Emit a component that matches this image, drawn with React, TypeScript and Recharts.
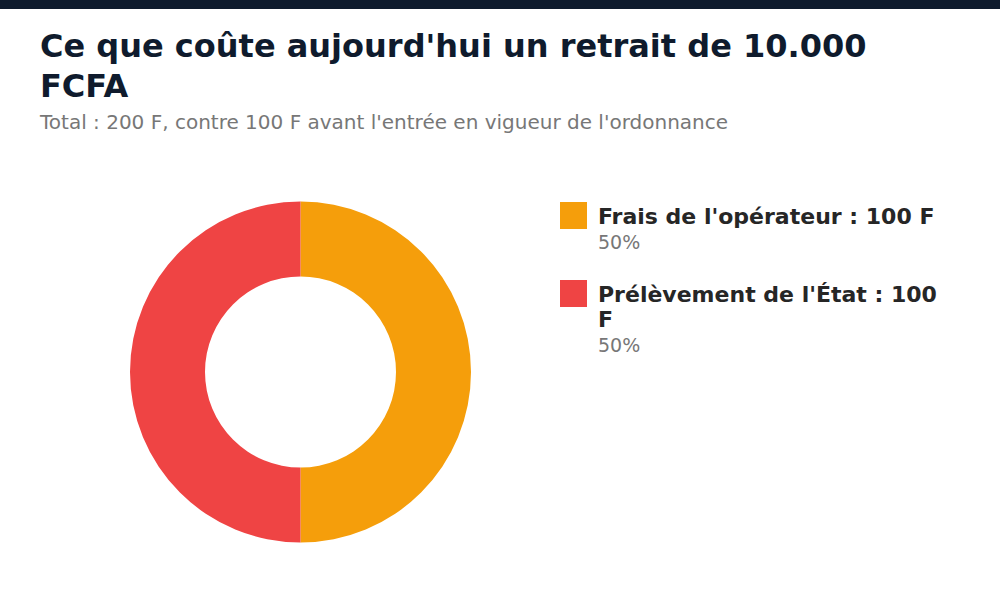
import { Legend, Pie, PieChart } from "recharts";

const sliceLabels = ["Frais de l'opérateur", "Prélèvement de l'État"];
const sliceValues = [100, 100];
const sliceShares = ["50%", "50%"];
const sliceColors = ["#f59e0b", "#ef4444"];

const data = sliceLabels.map((name, i) => ({
  name,
  value: sliceValues[i],
  share: sliceShares[i],
  fill: sliceColors[i],
}));

const FONT = "'DejaVu Sans', sans-serif";

function FeeLegend() {
  return (
    <div style={{ fontFamily: FONT, width: 400 }}>
      {data.map((d) => (
        <div
          key={d.name}
          style={{ display: "flex", alignItems: "flex-start", marginBottom: 25 }}
        >
          <div
            style={{
              width: 27,
              height: 27,
              background: d.fill,
              flex: "none",
              marginRight: 11,
            }}
          />
          <div style={{ width: 345, flex: "none", marginTop: 2 }}>
            <div
              style={{
                fontWeight: 700,
                fontSize: 22,
                lineHeight: "25px",
                color: "#262626",
              }}
            >
              {d.name} : {d.value} F
            </div>
            <div style={{ fontSize: 19, lineHeight: "26px", color: "#777777" }}>
              {d.share}
            </div>
          </div>
        </div>
      ))}
    </div>
  );
}

export default function App() {
  return (
    <div
      style={{
        position: "fixed",
        left: 0,
        top: 0,
        width: 1000,
        height: 600,
        background: "#ffffff",
        overflow: "hidden",
      }}
    >
      <div style={{ height: 9, background: "#0f1b2d" }} />
      <div
        style={{
          position: "absolute",
          left: 40,
          top: 25.5,
          width: 880,
          fontFamily: FONT,
        }}
      >
        <div
          style={{
            fontWeight: 700,
            fontSize: 32,
            lineHeight: "40px",
            color: "#0f1b2d",
          }}
        >
          Ce que coûte aujourd'hui un retrait de 10.000 FCFA
        </div>
        <div
          style={{
            fontSize: 20,
            lineHeight: "26px",
            color: "#777777",
            marginTop: 3.5,
          }}
        >
          Total : 200 F, contre 100 F avant l'entrée en vigueur de l'ordonnance
        </div>
      </div>
      <div style={{ position: "absolute", left: 0, top: 0 }}>
        <PieChart
          width={1000}
          height={600}
          margin={{ top: 0, right: 0, bottom: 0, left: 0 }}
        >
          <Pie
            data={data}
            dataKey="value"
            nameKey="name"
            cx={300.5}
            cy={372}
            innerRadius={95.5}
            outerRadius={170.5}
            startAngle={90}
            endAngle={-270}
            stroke="none"
            isAnimationActive={false}
          />
          <Legend
            content={<FeeLegend />}
            layout="vertical"
            wrapperStyle={{ left: 560, top: 202, width: 400 }}
          />
        </PieChart>
      </div>
    </div>
  );
}
